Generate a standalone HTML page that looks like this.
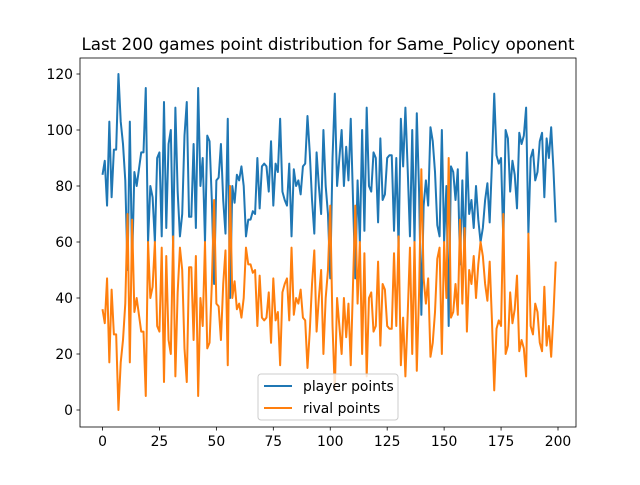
<!DOCTYPE html>
<html><head><meta charset="utf-8"><style>
html,body{margin:0;padding:0;background:#fff;}
svg text{font-family:"DejaVu Sans","Liberation Sans",sans-serif;fill:#000;}
</style></head><body>
<svg id="chart" width="640" height="480" viewBox="0 0 640 480" xmlns="http://www.w3.org/2000/svg">
<rect width="640" height="480" fill="#fff"/>
<text x="328" y="50" font-size="16.7" text-anchor="middle">Last 200 games point distribution for Same_Policy oponent</text>
<g id="ticks"></g>
<g id="series"></g>
<rect x="80" y="58" width="496" height="369" fill="none" stroke="#000" stroke-width="0.8"/>
<g>
<rect x="258" y="374" width="140" height="46" rx="3" fill="#fff" fill-opacity="0.8" stroke="#ccc"/>
<line x1="264" y1="386" x2="292" y2="386" stroke="#1f77b4" stroke-width="2"/>
<text x="303" y="391" font-size="13.9">player points</text>
<line x1="264" y1="408" x2="292" y2="408" stroke="#ff7f0e" stroke-width="2"/>
<text x="303" y="413" font-size="13.9">rival points</text>
</g>
</svg>
<script>
const xTicks=[0,25,50,75,100,125,150,175,200];
const yTicks=[0,20,40,60,80,100,120];
const player=[84,89,73,103,76,93,93,120,103,95,82,50,103,52,85,80,86,92,92,115,60,80,76,60,90,92,62,110,65,95,100,58,108,78,62,70,98,110,69,69,95,65,115,80,90,60,98,96,75,45,82,83,95,75,63,104,40,80,74,84,82,87,80,62,68,68,71,70,90,72,87,88,87,78,96,73,88,85,104,78,75,73,88,62,86,80,82,77,87,88,105,92,75,63,92,80,70,100,80,70,47,90,113,80,90,100,80,94,82,104,75,47,82,60,100,64,108,80,78,92,90,67,97,75,77,90,91,91,64,90,58,104,87,108,86,62,100,60,106,78,34,73,82,73,101,96,85,66,62,100,60,80,30,87,85,75,86,52,82,55,92,70,75,65,80,68,60,65,75,81,67,88,113,91,88,90,60,100,97,78,89,84,72,99,95,98,108,63,90,93,82,85,96,99,76,97,90,101,86,67];
const rival=[36,31,47,17,43,27,27,0,17,25,38,70,17,68,35,40,34,28,28,5,60,40,44,60,30,28,58,10,55,25,20,62,12,42,58,50,22,10,51,51,25,55,5,40,30,60,22,24,45,75,38,37,25,45,57,16,80,40,46,36,38,33,40,58,52,52,49,50,30,48,33,32,33,42,24,47,32,35,16,42,45,47,32,58,34,40,38,43,33,32,15,28,45,57,28,40,50,20,40,50,73,30,7,40,30,20,40,26,38,16,45,73,38,60,20,56,12,40,42,28,30,53,23,45,43,30,29,29,56,30,62,16,33,12,34,58,20,60,14,42,86,47,38,47,19,24,35,54,58,20,60,40,90,33,35,45,34,68,38,65,28,50,45,55,40,52,60,55,45,39,53,32,7,29,32,30,70,20,23,42,31,36,48,21,25,22,12,63,30,27,38,35,24,21,44,23,30,19,34,53];
const NS="http://www.w3.org/2000/svg";
function xs(v){return 102.5+v*(558-102.5)/200;}
function ys(v){return 410+(-v)*(410-74)/120;}
const tg=document.getElementById('ticks');
xTicks.forEach(t=>{
  const l=document.createElementNS(NS,'line');
  
  
  l.setAttribute('x1',xs(t));l.setAttribute('x2',xs(t));l.setAttribute('y1',427);l.setAttribute('y2',430.5);l.setAttribute('stroke','#000');l.setAttribute('stroke-width','0.8');
  tg.appendChild(l);
  const tx=document.createElementNS(NS,'text');
  
  
  tx.setAttribute('x',xs(t));tx.setAttribute('y',446);tx.setAttribute('font-size','13.9');tx.setAttribute('text-anchor','middle');
  tx.textContent=t;tg.appendChild(tx);
});
yTicks.forEach(t=>{
  const l=document.createElementNS(NS,'line');
  
  
  l.setAttribute('x1',76.5);l.setAttribute('x2',80);l.setAttribute('y1',ys(t));l.setAttribute('y2',ys(t));l.setAttribute('stroke','#000');l.setAttribute('stroke-width','0.8');
  tg.appendChild(l);
  const tx=document.createElementNS(NS,'text');
  
  
  tx.setAttribute('x',73);tx.setAttribute('y',ys(t)+5);tx.setAttribute('font-size','13.9');tx.setAttribute('text-anchor','end');
  tx.textContent=t;tg.appendChild(tx);
});
const sg=document.getElementById('series');
function line(arr,color,name){
  const p=document.createElementNS(NS,'polyline');
  
  
  p.setAttribute('points',arr.map((v,i)=>xs(i).toFixed(2)+','+ys(v).toFixed(2)).join(' '));
  p.setAttribute('fill','none');p.setAttribute('stroke',color);p.setAttribute('stroke-width','2');p.setAttribute('stroke-linejoin','round');
  sg.appendChild(p);
}
line(player,'#1f77b4','player-points-line');
line(rival,'#ff7f0e','rival-points-line');
</script>
</body></html>
